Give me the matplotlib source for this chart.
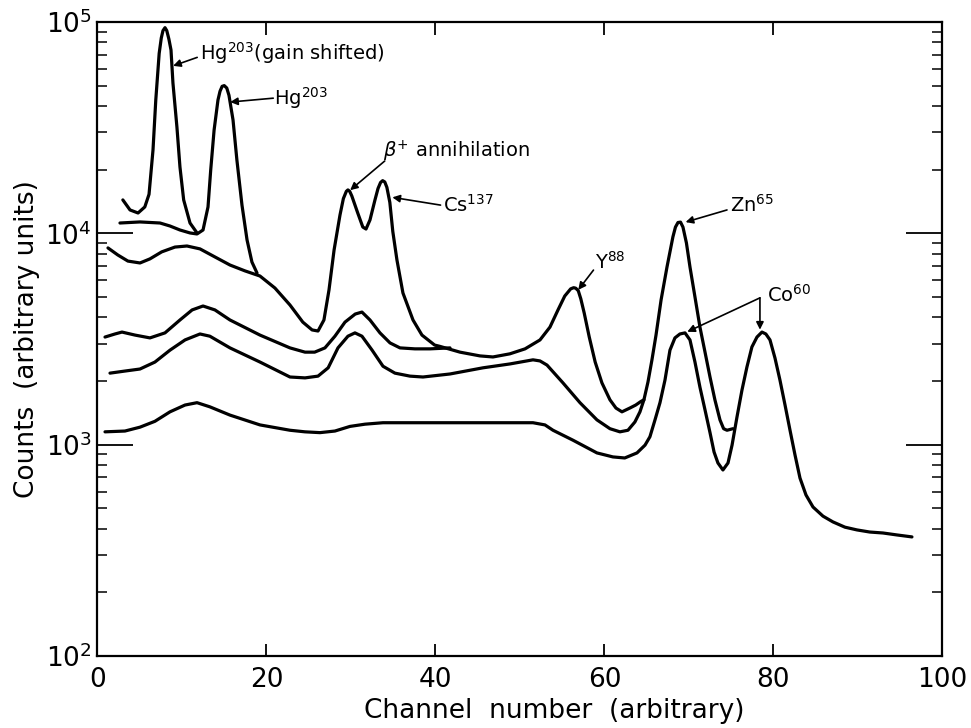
import matplotlib
matplotlib.use("Agg")
import matplotlib.pyplot as plt
from matplotlib.ticker import LogLocator, NullLocator, FixedLocator

# channel / counts, one list pair per drawn trace
# Hg203, gain shifted
hg_shift_x = [3.0, 3.85, 4.8, 5.6, 6.1, 6.57, 6.9, 7.3, 7.55, 7.75, 7.99, 8.2, 8.45, 8.7, 8.93, 9.4, 9.76, 10.2, 10.95, 11.78]
hg_shift_y = [14390, 12900, 12480, 13330, 15300, 24800, 42800, 71000, 84000, 91000, 94000, 91000, 83000, 73700, 51450, 31860, 20600, 14390, 11190, 10040]

# Hg203
hg_x = [2.66, 5.03, 7.4, 8.58, 9.76, 10.95, 11.78, 12.49, 13.08, 13.4, 13.8, 14.26, 14.5, 14.75, 15.0, 15.3, 15.56, 16.04, 16.5, 17.1, 17.7, 18.28, 18.88]
hg_y = [11190, 11320, 11190, 10830, 10370, 10040, 9930, 10370, 13330, 19950, 30800, 42760, 47000, 49600, 50000, 48700, 45000, 34400, 22200, 13600, 9300, 7310, 6490]

# upper composite: annihilation, Cs137, Y88
cs_x = [1.24, 2.4, 3.6, 5.03, 6.21, 7.6, 9.17, 10.59, 12.13, 13.9, 15.68, 17.46, 19.23, 21.0, 22.78, 24.3,
        25.4, 26.1, 26.8, 27.4, 28.0, 28.7, 29.1, 29.45, 29.64, 29.85, 30.1, 30.8, 31.4, 31.78, 32.25, 32.84, 33.2,
        33.5, 33.75, 34.0, 34.25, 34.6, 34.95, 35.44, 36.15, 37.34, 38.4, 39.9, 40.5, 42.9, 45.27, 46.8, 48.8,
        50.6, 52.37, 53.55, 54.5, 55.3, 56.0, 56.35, 56.6, 56.9, 57.2, 57.6, 58.2, 58.9, 59.7, 60.65, 61.36,
        62.07, 63.0, 63.7, 64.3, 64.67]
cs_y = [8530, 7900, 7390, 7240, 7570, 8170, 8610, 8710, 8440, 7730, 7080, 6640, 6280, 5510, 4580, 3800,
        3490, 3450, 3890, 5400, 8340, 12210, 14600, 15800, 16050, 15800, 15020, 12480, 10710, 10480, 11570, 14390, 16300,
        17400, 17750, 17500, 16500, 14000, 10200, 7480, 5220, 3890, 3300, 2960, 2920, 2740, 2630, 2600, 2690,
        2840, 3130, 3600, 4340, 5050, 5460, 5530, 5500, 5350, 4900, 4200, 3230, 2460, 1960, 1630, 1490,
        1430, 1490, 1540, 1600, 1630]

# second trace, joins the Cs137 tail near channel 42
mid_x = [0.89, 2.07, 2.9, 4.44, 6.21, 7.99, 9.76, 11.2, 12.49, 13.9, 15.68, 19.23, 22.78, 24.56, 25.7, 26.92,
         28.1, 29.29, 30.5, 31.3, 32.25, 33.43, 34.62, 35.8, 37.57, 39.35, 41.72]
mid_y = [3230, 3340, 3410, 3300, 3200, 3380, 3890, 4340, 4530, 4340, 3890, 3300, 2870, 2740, 2740, 2870,
         3260, 3800, 4150, 4240, 3890, 3380, 3030, 2870, 2840, 2840, 2870]

# Zn65 trace
zn_x = [1.48, 3.25, 5.03, 6.8, 8.58, 10.36, 12.13, 13.3, 15.68, 19.23, 22.78, 24.56, 26.1, 27.3, 28.46, 29.64,
        30.47, 31.3, 32.5, 33.79, 35.2, 36.98, 38.52, 41.72, 45.62, 48.82, 51.54, 52.37, 53.2, 55.09, 57.1, 59.11,
        60.65, 61.83, 62.78, 63.6, 64.2, 64.67, 65.15, 65.62, 66.1, 66.7, 67.4, 68.1, 68.4, 68.7, 69.0, 69.29, 69.7,
        70.12, 70.71, 71.3, 71.9, 72.49, 73.07, 73.67, 74.1, 74.5, 75.21]
zn_y = [2180, 2230, 2280, 2460, 2800, 3130, 3340, 3260, 2870, 2460, 2090, 2070, 2110, 2310, 2870, 3260,
        3380, 3260, 2800, 2350, 2180, 2110, 2090, 2160, 2310, 2410, 2520, 2490, 2380, 1960, 1580, 1310,
        1190, 1150, 1170, 1280, 1430, 1630, 1980, 2520, 3300, 4840, 6930, 9620, 10700, 11250, 11300, 10700, 9000,
        6930, 5000, 3600, 2740, 2090, 1630, 1310, 1190, 1170, 1190]

# Co60 trace
co_x = [0.89, 3.25, 5.03, 6.8, 8.58, 10.36, 11.78, 13.3, 15.68, 19.23, 22.78, 24.56, 26.33, 28.1, 29.88, 31.66,
        33.79, 38.17, 41.72, 47.63, 51.54, 52.96, 53.91, 56.27, 59.11, 61.0, 62.4, 63.85, 64.8, 65.38, 65.98, 66.57,
        67.16, 67.75, 68.34, 68.93, 69.53, 70.12, 70.71, 71.3, 71.9, 72.49, 72.97, 73.43, 74.02, 74.62, 75.1, 75.68,
        76.27, 76.86, 77.45, 78.05, 78.64, 79.1, 79.59, 80.18, 80.77, 81.37, 81.96, 82.55, 83.14, 83.85, 84.68, 85.86,
        87.04, 88.46, 89.88, 91.4, 92.96, 94.6, 96.39]
co_y = [1150, 1160, 1210, 1290, 1430, 1540, 1580, 1510, 1380, 1240, 1170, 1150, 1140, 1160, 1220, 1250,
        1270, 1270, 1270, 1270, 1270, 1240, 1170, 1050, 914, 875, 865, 914, 995, 1090, 1310, 1580,
        2020, 2800, 3200, 3340, 3380, 3130, 2460, 1870, 1460, 1140, 923, 819, 759, 819, 995, 1350,
        1810, 2330, 2900, 3230, 3410, 3340, 3130, 2570, 2020, 1540, 1170, 894, 695, 578, 507, 459,
        431, 407, 395, 386, 382, 374, 366]

# labels: text, text position, arrow start, list of arrow tips
labels = [
    (r"Hg$^{203}$(gain shifted)", (12.1, 71000), (11.8, 68000), [(8.95, 62000)]),
    (r"Hg$^{203}$", (20.9, 43600), (20.8, 43600), [(15.7, 41800)]),
    (r"$\beta^{+}$ annihilation", (33.8, 24500), (34.0, 22000), [(29.9, 16000)]),
    (r"Cs$^{137}$", (40.9, 13600), (40.6, 13600), [(34.9, 14800)]),
    (r"Y$^{88}$", (58.9, 7300), (58.7, 6700), [(56.9, 5400)]),
    (r"Zn$^{65}$", (74.9, 13600), (74.5, 12900), [(69.6, 11300)]),
    (r"Co$^{60}$", (79.2, 5100), (78.4, 4950), [(69.8, 3420), (78.4, 3500)]),
]

fig = plt.figure(figsize=(9.71, 7.28), dpi=100)
ax = fig.add_axes([0.1004, 0.0989, 0.8702, 0.8709])

traces = [(hg_shift_x, hg_shift_y), (hg_x, hg_y), (cs_x, cs_y), (mid_x, mid_y), (zn_x, zn_y), (co_x, co_y)]
for xs, ys in traces:
    ax.plot(xs, ys, color="black", lw=2.3, solid_joinstyle="round", solid_capstyle="round")

for txt, tpos, start, tips in labels:
    ax.text(tpos[0], tpos[1], txt, fontsize=14, ha="left", va="center")
    for tip in tips:
        ax.annotate("", xy=tip, xytext=start,
                    arrowprops=dict(arrowstyle="-|>", color="black", lw=1.2,
                                    mutation_scale=11, shrinkA=0, shrinkB=0))

ax.set_yscale("log")
ax.set_xlim(0, 100)
ax.set_ylim(1e2, 1e5)
ax.xaxis.set_major_locator(FixedLocator([0, 20, 40, 60, 80, 100]))
ax.xaxis.set_minor_locator(NullLocator())
ax.yaxis.set_major_locator(LogLocator(base=10, numticks=10))
ax.yaxis.set_minor_locator(LogLocator(base=10, subs=range(2, 10), numticks=20))

ax.tick_params(axis="x", which="major", direction="in", length=9, width=1.3,
               top=True, labelsize=19, pad=8)
ax.tick_params(axis="y", which="major", direction="in", length=26, width=1.3,
               right=True, labelsize=19, pad=4)
ax.tick_params(axis="y", which="minor", direction="in", length=7, width=1.1, right=True)
for sp in ax.spines.values():
    sp.set_linewidth(1.6)

ax.set_xlabel("Channel  number  (arbitrary)", fontsize=19)
ax.set_ylabel("Counts  (arbitrary units)", fontsize=19)
ax.xaxis.set_label_coords(0.54, -0.066)
ax.yaxis.set_label_coords(-0.068, 0.5)

fig.savefig("out.png", dpi=100)
